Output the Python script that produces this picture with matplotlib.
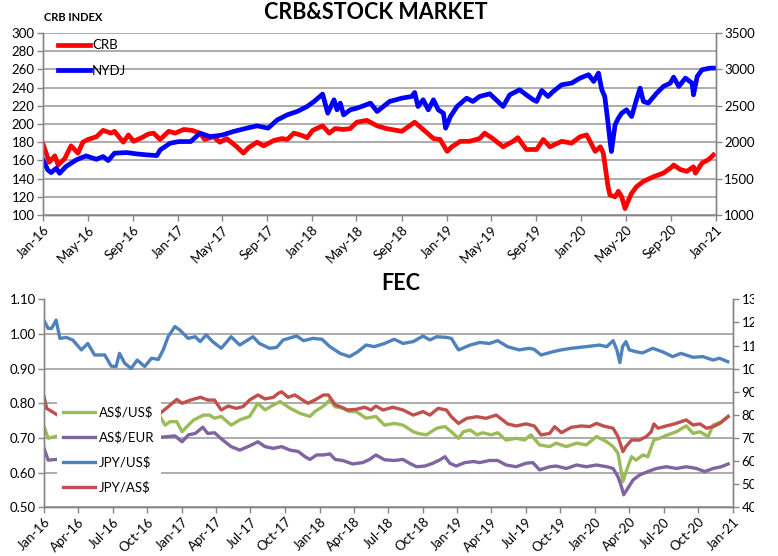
import matplotlib
matplotlib.use("Agg")
import matplotlib.pyplot as plt
import matplotlib.dates as mdates
import pandas as pd
from matplotlib.transforms import Bbox

plt.rcParams["font.family"] = ["Lato", "DejaVu Sans"]
plt.rcParams["text.parse_math"] = False

# ---- CRB & stock market (top panel) ----
crb_dates = [
    "2016-01-01", "2016-01-18", "2016-02-02", "2016-02-11", "2016-02-29", "2016-03-17",
    "2016-04-05", "2016-04-18", "2016-05-02", "2016-05-25", "2016-06-12", "2016-07-04",
    "2016-07-13", "2016-08-06", "2016-08-20", "2016-09-03", "2016-09-25", "2016-10-13",
    "2016-10-27", "2016-11-14", "2016-12-07", "2016-12-25", "2017-01-17", "2017-02-09",
    "2017-03-02", "2017-03-15", "2017-04-08", "2017-04-25", "2017-05-14", "2017-06-10",
    "2017-06-28", "2017-07-12", "2017-08-04", "2017-08-22", "2017-09-19", "2017-10-11",
    "2017-10-25", "2017-11-12", "2017-11-30", "2017-12-18", "2018-01-02", "2018-01-29",
    "2018-02-16", "2018-03-04", "2018-03-27", "2018-04-14", "2018-05-02", "2018-05-29",
    "2018-06-26", "2018-07-21", "2018-09-01", "2018-10-06", "2018-10-29", "2018-11-26",
    "2018-12-14", "2019-01-02", "2019-01-15", "2019-02-07", "2019-03-04", "2019-03-31",
    "2019-04-14", "2019-05-06", "2019-06-03", "2019-06-30", "2019-07-13", "2019-08-05",
    "2019-09-02", "2019-09-20", "2019-10-08", "2019-11-09", "2019-12-06", "2019-12-29",
    "2020-01-16", "2020-02-08", "2020-02-22", "2020-03-01", "2020-03-14", "2020-03-19",
    "2020-04-02", "2020-04-11", "2020-04-20", "2020-04-29", "2020-05-08", "2020-05-17",
    "2020-05-30", "2020-06-18", "2020-07-15", "2020-08-11", "2020-09-04", "2020-09-08",
    "2020-09-26", "2020-10-14", "2020-11-01", "2020-11-06", "2020-11-24", "2020-12-12",
    "2020-12-25",
]
crb_values = [
    178, 158, 165, 155, 162, 176, 168, 180, 183, 186, 193, 190,
    192, 180, 188, 181, 185, 189, 190, 183, 192, 190, 194, 193,
    190, 183, 186, 180, 184, 175, 168, 174, 180, 176, 182, 184,
    183, 190, 188, 185, 193, 198, 190, 195, 194, 195, 202, 204,
    198, 195, 192, 202, 194, 184, 183, 170, 175, 181, 181, 184,
    190, 184, 175, 181, 185, 172, 172, 183, 175, 181, 179, 186,
    188, 170, 175, 168, 131, 122, 120, 126, 120, 107, 116, 124,
    131, 137, 142, 146, 153, 155, 150, 148, 153, 146, 157, 161,
    166,
]

nydj_dates = [
    "2016-01-01", "2016-01-14", "2016-01-23", "2016-02-06", "2016-02-15", "2016-03-03",
    "2016-03-31", "2016-04-27", "2016-05-25", "2016-06-12", "2016-06-26", "2016-07-13",
    "2016-08-15", "2016-09-12", "2016-10-09", "2016-11-05", "2016-11-14", "2016-12-11",
    "2017-01-04", "2017-02-05", "2017-03-02", "2017-03-29", "2017-04-16", "2017-05-03",
    "2017-06-01", "2017-07-07", "2017-08-04", "2017-09-03", "2017-09-28", "2017-10-25",
    "2017-11-21", "2017-12-18", "2018-01-06", "2018-01-29", "2018-02-12", "2018-03-01",
    "2018-03-09", "2018-03-18", "2018-03-27", "2018-04-14", "2018-05-02", "2018-05-20",
    "2018-06-08", "2018-06-26", "2018-07-30", "2018-09-01", "2018-09-28", "2018-10-06",
    "2018-10-15", "2018-10-29", "2018-11-12", "2018-11-26", "2018-12-09", "2018-12-23",
    "2018-12-29", "2019-01-11", "2019-01-29", "2019-02-24", "2019-03-13", "2019-03-31",
    "2019-04-28", "2019-05-15", "2019-06-03", "2019-06-21", "2019-07-18", "2019-08-05",
    "2019-08-24", "2019-09-02", "2019-09-16", "2019-10-03", "2019-10-17", "2019-11-09",
    "2019-12-06", "2019-12-29", "2020-01-21", "2020-02-04", "2020-02-17", "2020-02-26",
    "2020-03-05", "2020-03-14", "2020-03-19", "2020-03-23", "2020-04-02", "2020-04-11",
    "2020-04-20", "2020-05-03", "2020-05-17", "2020-05-30", "2020-06-09", "2020-06-18",
    "2020-07-01", "2020-07-24", "2020-08-11", "2020-08-30", "2020-09-08", "2020-09-22",
    "2020-10-10", "2020-10-28", "2020-11-01", "2020-11-11", "2020-11-24", "2020-12-16",
    "2020-12-25",
]
nydj_values = [
    1757, 1619, 1583, 1642, 1573, 1665, 1757, 1812, 1766, 1803, 1748, 1849,
    1858, 1839, 1826, 1817, 1894, 1986, 2009, 2009, 2124, 2078, 2087, 2101,
    2147, 2193, 2225, 2193, 2307, 2376, 2422, 2491, 2560, 2661, 2399, 2583,
    2445, 2537, 2376, 2445, 2468, 2500, 2537, 2422, 2560, 2605, 2628, 2683,
    2491, 2583, 2445, 2583, 2445, 2399, 2193, 2353, 2491, 2605, 2560, 2628,
    2665, 2583, 2491, 2651, 2720, 2651, 2583, 2560, 2711, 2628, 2697, 2789,
    2812, 2881, 2927, 2835, 2950, 2720, 2628, 2261, 2032, 1872, 2238, 2330,
    2399, 2445, 2353, 2583, 2743, 2560, 2537, 2674, 2766, 2812, 2894, 2766,
    2881, 2812, 2651, 2904, 2995, 3018, 3018,
]

# ---- FEC (bottom panel) ----
audusd_dates = [
    "2016-01-01", "2016-01-12", "2016-02-20", "2016-04-15", "2016-05-25", "2016-07-01",
    "2016-08-10", "2016-09-15", "2016-10-12", "2016-11-04", "2016-11-17", "2016-11-30",
    "2016-12-18", "2017-01-01", "2017-01-14", "2017-02-01", "2017-02-27", "2017-03-15",
    "2017-03-28", "2017-04-15", "2017-05-11", "2017-06-03", "2017-06-29", "2017-07-21",
    "2017-08-09", "2017-08-31", "2017-09-18", "2017-10-14", "2017-11-10", "2017-12-06",
    "2017-12-19", "2018-01-11", "2018-01-28", "2018-02-11", "2018-03-03", "2018-03-21",
    "2018-04-08", "2018-05-04", "2018-05-30", "2018-06-22", "2018-07-18", "2018-08-10",
    "2018-09-06", "2018-09-19", "2018-10-11", "2018-11-07", "2018-11-29", "2018-12-16",
    "2019-01-04", "2019-01-17", "2019-02-04", "2019-02-22", "2019-03-09", "2019-04-01",
    "2019-04-18", "2019-05-10", "2019-06-06", "2019-06-28", "2019-07-15", "2019-08-07",
    "2019-09-03", "2019-09-20", "2019-10-17", "2019-11-13", "2019-12-09", "2020-01-05",
    "2020-02-01", "2020-02-18", "2020-03-02", "2020-03-15", "2020-03-25", "2020-04-07",
    "2020-04-19", "2020-05-07", "2020-05-20", "2020-06-05", "2020-06-20", "2020-07-12",
    "2020-08-04", "2020-08-30", "2020-09-17", "2020-10-05", "2020-10-27", "2020-11-09",
    "2020-12-01", "2020-12-19",
]
audusd_values = [
    0.733, 0.699, 0.710, 0.760, 0.720, 0.750, 0.770, 0.750, 0.766, 0.762, 0.737, 0.747,
    0.747, 0.718, 0.733, 0.752, 0.766, 0.766, 0.757, 0.762, 0.737, 0.752, 0.762, 0.800,
    0.781, 0.795, 0.805, 0.786, 0.771, 0.762, 0.776, 0.792, 0.810, 0.790, 0.786, 0.776,
    0.776, 0.757, 0.762, 0.737, 0.742, 0.737, 0.718, 0.713, 0.709, 0.728, 0.733, 0.718,
    0.699, 0.718, 0.723, 0.709, 0.715, 0.709, 0.715, 0.694, 0.699, 0.694, 0.709, 0.680,
    0.675, 0.685, 0.675, 0.685, 0.680, 0.704, 0.689, 0.675, 0.656, 0.574, 0.608, 0.646,
    0.636, 0.651, 0.646, 0.694, 0.699, 0.709, 0.718, 0.735, 0.713, 0.718, 0.704, 0.737,
    0.747, 0.763,
]

audeur_dates = [
    "2016-01-01", "2016-01-12", "2016-02-20", "2016-04-15", "2016-05-25", "2016-07-01",
    "2016-08-10", "2016-09-15", "2016-10-12", "2016-11-04", "2016-11-26", "2016-12-13",
    "2017-01-01", "2017-01-18", "2017-02-05", "2017-02-25", "2017-03-10", "2017-03-28",
    "2017-04-19", "2017-05-11", "2017-06-03", "2017-06-29", "2017-07-21", "2017-08-09",
    "2017-08-31", "2017-09-22", "2017-10-14", "2017-11-05", "2017-11-23", "2017-12-06",
    "2017-12-24", "2018-01-11", "2018-01-28", "2018-02-11", "2018-03-03", "2018-03-29",
    "2018-04-25", "2018-05-13", "2018-05-30", "2018-06-22", "2018-07-18", "2018-08-10",
    "2018-08-27", "2018-09-15", "2018-10-07", "2018-10-28", "2018-11-16", "2018-11-29",
    "2018-12-12", "2018-12-29", "2019-01-21", "2019-02-13", "2019-03-01", "2019-03-27",
    "2019-04-18", "2019-05-10", "2019-06-06", "2019-07-02", "2019-07-20", "2019-08-07",
    "2019-09-03", "2019-09-20", "2019-10-17", "2019-11-13", "2019-12-09", "2020-01-05",
    "2020-02-01", "2020-02-18", "2020-03-02", "2020-03-11", "2020-03-17", "2020-03-28",
    "2020-04-11", "2020-04-28", "2020-05-20", "2020-06-12", "2020-07-08", "2020-08-04",
    "2020-08-30", "2020-09-26", "2020-10-18", "2020-11-09", "2020-12-01", "2020-12-19",
]
audeur_values = [
    0.670, 0.636, 0.640, 0.670, 0.650, 0.670, 0.680, 0.670, 0.689, 0.702, 0.704, 0.706,
    0.689, 0.709, 0.713, 0.731, 0.713, 0.715, 0.694, 0.675, 0.665, 0.677, 0.689, 0.675,
    0.670, 0.675, 0.665, 0.661, 0.646, 0.638, 0.651, 0.651, 0.654, 0.638, 0.635, 0.625,
    0.629, 0.638, 0.651, 0.637, 0.635, 0.638, 0.627, 0.617, 0.619, 0.627, 0.637, 0.646,
    0.627, 0.619, 0.629, 0.632, 0.629, 0.635, 0.635, 0.622, 0.617, 0.627, 0.629, 0.608,
    0.617, 0.619, 0.612, 0.622, 0.617, 0.622, 0.617, 0.612, 0.588, 0.560, 0.536, 0.555,
    0.579, 0.593, 0.603, 0.612, 0.617, 0.612, 0.617, 0.612, 0.603, 0.612, 0.617, 0.625,
]

usdjpy_dates = [
    "2016-01-01", "2016-01-12", "2016-01-21", "2016-02-02", "2016-02-12", "2016-02-29",
    "2016-03-17", "2016-04-09", "2016-04-26", "2016-05-14", "2016-06-10", "2016-06-27",
    "2016-07-10", "2016-07-19", "2016-08-02", "2016-08-19", "2016-09-04", "2016-09-24",
    "2016-10-12", "2016-10-30", "2016-11-12", "2016-11-25", "2016-12-13", "2016-12-26",
    "2017-01-17", "2017-02-05", "2017-02-18", "2017-03-06", "2017-03-23", "2017-04-15",
    "2017-05-11", "2017-06-03", "2017-07-08", "2017-07-25", "2017-08-21", "2017-09-09",
    "2017-09-26", "2017-11-01", "2017-11-19", "2017-12-14", "2018-01-07", "2018-01-28",
    "2018-02-24", "2018-03-21", "2018-04-12", "2018-05-04", "2018-05-26", "2018-06-22",
    "2018-07-18", "2018-08-10", "2018-09-06", "2018-10-02", "2018-10-20", "2018-11-07",
    "2018-12-03", "2018-12-16", "2019-01-04", "2019-02-04", "2019-03-01", "2019-03-27",
    "2019-04-18", "2019-05-14", "2019-06-14", "2019-07-10", "2019-07-23", "2019-08-11",
    "2019-09-11", "2019-10-03", "2019-10-30", "2019-12-08", "2020-01-13", "2020-02-01",
    "2020-02-18", "2020-02-28", "2020-03-07", "2020-03-14", "2020-03-23", "2020-04-01",
    "2020-04-19", "2020-05-06", "2020-06-02", "2020-06-28", "2020-07-25", "2020-08-16",
    "2020-09-17", "2020-10-13", "2020-11-09", "2020-11-26", "2020-12-18",
]
usdjpy_values = [
    120.8, 117.4, 117.4, 121.0, 113.1, 113.5, 112.4, 108.1, 110.9, 105.9, 105.9, 101.1,
    100.9, 106.6, 102.3, 100.1, 103.7, 100.9, 104.5, 104.0, 108.1, 113.8, 118.2, 116.7,
    113.1, 113.8, 111.7, 114.6, 111.7, 108.8, 113.8, 110.2, 113.8, 110.9, 108.8, 109.2,
    112.4, 114.1, 112.1, 113.1, 112.7, 109.5, 106.6, 105.2, 107.3, 110.2, 109.5, 110.9,
    112.7, 110.9, 111.7, 114.1, 112.4, 113.8, 113.5, 113.1, 108.1, 110.2, 111.3, 110.9,
    112.1, 109.5, 108.1, 108.8, 108.4, 105.9, 107.3, 108.1, 108.8, 109.5, 110.2, 109.5,
    112.1, 108.1, 102.6, 109.5, 111.7, 108.1, 107.3, 106.8, 108.8, 107.3, 105.2, 106.6,
    104.9, 105.2, 103.7, 104.5, 103.0,
]

audjpy_dates = [
    "2016-01-01", "2016-01-08", "2016-02-15", "2016-04-01", "2016-05-15", "2016-06-25",
    "2016-08-01", "2016-09-01", "2016-10-12", "2016-11-04", "2016-11-26", "2016-12-18",
    "2017-01-01", "2017-01-23", "2017-02-19", "2017-03-10", "2017-03-28", "2017-04-15",
    "2017-05-03", "2017-05-25", "2017-06-12", "2017-06-29", "2017-07-21", "2017-08-09",
    "2017-08-31", "2017-09-13", "2017-09-22", "2017-10-09", "2017-10-27", "2017-11-14",
    "2017-12-01", "2017-12-19", "2018-01-11", "2018-01-24", "2018-02-11", "2018-02-28",
    "2018-03-16", "2018-04-08", "2018-04-30", "2018-05-17", "2018-05-30", "2018-06-18",
    "2018-07-14", "2018-08-10", "2018-09-06", "2018-10-02", "2018-10-20", "2018-11-11",
    "2018-12-03", "2018-12-16", "2019-01-04", "2019-01-26", "2019-02-22", "2019-03-18",
    "2019-04-14", "2019-05-01", "2019-05-14", "2019-06-06", "2019-07-02", "2019-07-24",
    "2019-08-11", "2019-09-03", "2019-09-16", "2019-10-04", "2019-10-30", "2019-11-26",
    "2019-12-18", "2020-01-05", "2020-01-23", "2020-02-18", "2020-03-02", "2020-03-15",
    "2020-03-23", "2020-04-07", "2020-04-28", "2020-05-16", "2020-05-29", "2020-06-05",
    "2020-06-16", "2020-07-08", "2020-07-30", "2020-08-30", "2020-09-17", "2020-10-05",
    "2020-10-23", "2020-11-09", "2020-11-27", "2020-12-19",
]
audjpy_values = [
    87.9, 82.8, 79.0, 82.0, 78.0, 74.0, 77.0, 78.0, 79.2, 80.7, 83.6, 86.7,
    85.0, 86.4, 87.6, 86.4, 86.4, 82.1, 83.8, 82.8, 83.6, 86.4, 88.6, 86.9,
    87.6, 89.3, 90.0, 87.6, 88.6, 86.7, 85.0, 86.4, 88.6, 88.6, 84.3, 83.3,
    82.1, 82.4, 83.3, 82.1, 83.8, 82.1, 83.3, 82.1, 79.9, 81.4, 79.9, 82.8,
    82.1, 79.2, 76.3, 78.5, 79.2, 78.5, 79.9, 77.8, 76.1, 75.2, 76.1, 75.2,
    71.3, 72.0, 74.9, 72.3, 74.6, 75.2, 74.9, 76.3, 75.2, 74.2, 70.6, 64.1,
    66.3, 69.1, 69.1, 70.6, 72.7, 76.1, 74.2, 75.2, 76.1, 77.8, 75.6, 76.1,
    74.2, 74.9, 76.3, 79.2,
]

GRID = "#A6A6A6"
AXIS = "#868686"


def style_axes(ax):
    ax.spines["top"].set_visible(False)
    for side in ("left", "right", "bottom"):
        ax.spines[side].set_color(AXIS)
        ax.spines[side].set_linewidth(1.0)
    ax.tick_params(direction="out", length=4, width=1, color=AXIS, labelsize=9.5, pad=2)


def rotate_dates(ax):
    for lbl in ax.get_xticklabels():
        lbl.set_rotation(45)
        lbl.set_ha("right")
        lbl.set_rotation_mode("anchor")


fig = plt.figure(figsize=(7.78, 5.56), dpi=100)

# top panel
ax = fig.add_axes([0.0553, 0.6133, 0.865, 0.3273])
ax.plot(pd.to_datetime(crb_dates), crb_values, color="#FF0000", lw=3.4, label="CRB")
ax.set_ylim(100, 300)
ax.set_yticks(range(100, 301, 20))
ax.set_xlim(pd.Timestamp("2016-01-01"), pd.Timestamp("2021-01-01"))
ax.xaxis.set_major_locator(mdates.MonthLocator(bymonth=[1, 5, 9]))
ax.xaxis.set_major_formatter(mdates.DateFormatter("%b-%y"))
ax.grid(axis="y", color=GRID, lw=1.3)
ax.set_axisbelow(True)
style_axes(ax)
rotate_dates(ax)

ax2 = ax.twinx()
ax2.plot(pd.to_datetime(nydj_dates), nydj_values, color="#0000FF", lw=3.4, label="NYDJ")
ax2.set_ylim(1000, 3500)
ax2.set_yticks(range(1000, 3501, 500))
style_axes(ax2)
h1, l1 = ax.get_legend_handles_labels()
h2, l2 = ax2.get_legend_handles_labels()
ax2.legend(h1 + h2, l1 + l2, loc="upper left", bbox_to_anchor=(0.005, 1.03),
           frameon=False, fontsize=9.5, handlelength=2.4, handletextpad=0.15,
           labelspacing=1.0)

fig.text(0.483, 0.978, "CRB&STOCK MARKET", ha="center", va="center",
         fontsize=15.5, fontweight="bold")
fig.text(0.057, 0.968, "CRB INDEX", ha="left", va="center", fontsize=8,
         fontweight="bold")

# bottom panel
bx = fig.add_axes([0.0566, 0.0876, 0.8856, 0.3741])
bx.plot(pd.to_datetime(audusd_dates), audusd_values, color="#9BBB59", lw=2.4,
        label="AS$/US$")
bx.plot(pd.to_datetime(audeur_dates), audeur_values, color="#8064A2", lw=2.4,
        label="AS$/EUR")
bx.set_ylim(0.5, 1.1)
bx.set_yticks([0.5, 0.6, 0.7, 0.8, 0.9, 1.0, 1.1])
bx.yaxis.set_major_formatter(matplotlib.ticker.FormatStrFormatter("%.2f"))
bx.set_xlim(pd.Timestamp("2016-01-01"), pd.Timestamp("2021-01-01"))
bx.xaxis.set_major_locator(mdates.MonthLocator(bymonth=[1, 4, 7, 10]))
bx.xaxis.set_major_formatter(mdates.DateFormatter("%b-%y"))
bx.grid(axis="y", color=GRID, lw=1.3)
bx.set_axisbelow(True)
style_axes(bx)
rotate_dates(bx)
bx.get_ygridlines()[-1].set_visible(False)

bx2 = bx.twinx()
bx2.plot(pd.to_datetime(usdjpy_dates), usdjpy_values, color="#4F81BD", lw=2.4,
         label="JPY/US$")
bx2.plot(pd.to_datetime(audjpy_dates), audjpy_values, color="#C0504D", lw=2.4,
         label="JPY/AS$")
bx2.set_ylim(40, 130)
bx2.set_yticks(range(40, 131, 10))
style_axes(bx2)
# right-hand labels are cut off at the chart edge in the original
clip = Bbox([[0, 0], [754, 556]])
for lbl in bx2.get_yticklabels():
    lbl.set_clip_box(clip)
    lbl.set_clip_on(True)

h1, l1 = bx.get_legend_handles_labels()
h2, l2 = bx2.get_legend_handles_labels()
leg = bx2.legend(h1 + h2, l1 + l2, loc="upper left", bbox_to_anchor=(0.009, 0.55),
                 frameon=True, facecolor="white", edgecolor="none", framealpha=1,
                 fancybox=False, fontsize=9.5, handlelength=2.4, handletextpad=0.3,
                 labelspacing=0.95, borderpad=0.5)

fig.text(0.515, 0.49, "FEC", ha="center", va="center", fontsize=15.5,
         fontweight="bold")

fig.savefig("out.png", dpi=100)
